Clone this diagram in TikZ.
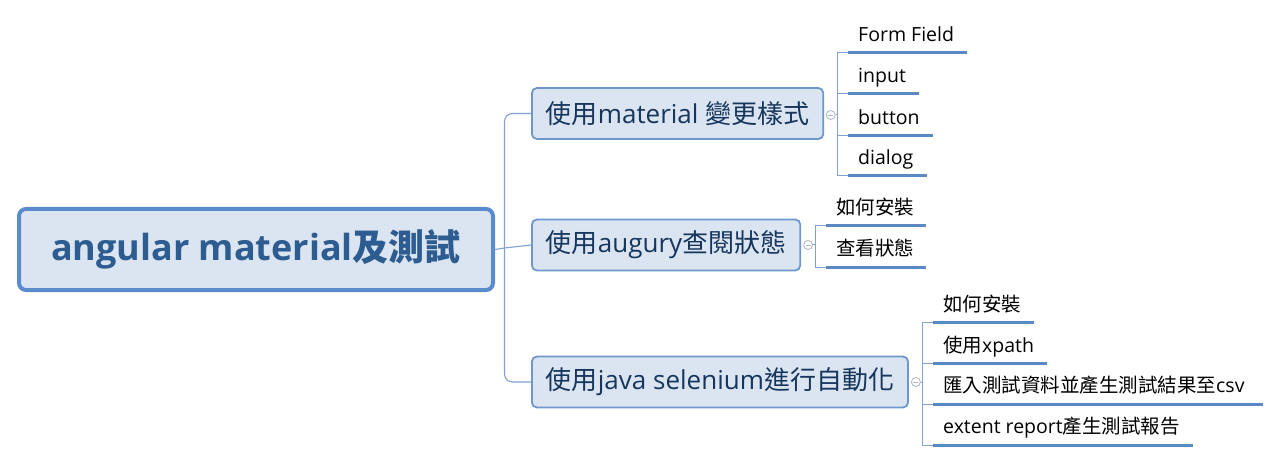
\documentclass[tikz,border=0pt]{standalone}
\usepackage{fontspec}
\setmainfont{Open Sans}
\newfontfamily\zhfont{Noto Sans CJK TC}
\newcommand\zh[1]{{\zhfont #1}}
\definecolor{boxfill}{HTML}{DBE5F1}
\definecolor{rootline}{HTML}{5A8BCB}
\definecolor{topline}{HTML}{6E97CB}
\definecolor{roottext}{HTML}{2D5C91}
\definecolor{topictext}{HTML}{17365D}
\definecolor{linkcol}{HTML}{7FA2CF}
\definecolor{leafline}{HTML}{5B89C3}
\definecolor{knobcol}{HTML}{A9B4C4}
\begin{document}
\begin{tikzpicture}[x=1pt,y=-1pt,
  root/.style={draw=rootline, line width=4pt, fill=boxfill, rounded corners=7pt, minimum width=474pt, minimum height=81pt, text=roottext, font=\bfseries\fontsize{36}{40}\selectfont},
  topic/.style={draw=topline, line width=1.8pt, fill=boxfill, rounded corners=5pt, minimum height=51pt, inner xsep=14pt, anchor=west, text=topictext, font=\fontsize{26}{30}\selectfont},
  leaf/.style={anchor=south west, inner xsep=10pt, inner ysep=0pt, text height=15pt, text depth=11pt, font=\fontsize{19.5}{24}\selectfont},
  uline/.style={draw=leafline, line width=3pt},
  link/.style={draw=linkcol, line width=1.1pt, rounded corners=8pt},
  twig/.style={draw=linkcol, line width=1pt},
  knob/.style={circle, draw=knobcol, line width=0.8pt, fill=white, inner sep=0pt, minimum size=9pt}]
\useasboundingbox (0,0) rectangle (1284,462);

\node[root] (root) at (256,249.5) {angular material\zh{及測試}};
\node[topic] (mat) at (531,113.5) {\zh{使用}material \zh{變更樣式}};
\node[topic] (aug) at (531,245) {\zh{使用}augury\zh{查閱狀態}};
\node[topic] (sel) at (531,382) {\zh{使用}java selenium\zh{進行自動化}};

\coordinate (fork) at (504.5,248);
\draw[link] (root.east) -- (fork);
\draw[link] (fork) |- (mat.west);
\draw[link] (fork) -- (aug.west);
\draw[link] (fork) |- (sel.west);

\node[knob] (kmat) at ([xshift=6.5pt,yshift=-1.5pt]mat.east) {};
\node[knob] (kaug) at ([xshift=7pt]aug.east) {};
\node[knob] (ksel) at ([xshift=7pt]sel.east) {};
\draw[knobcol, line width=0.8pt] ([xshift=-2.5pt]kmat.center) -- ([xshift=2.5pt]kmat.center);
\draw[knobcol, line width=0.8pt] ([xshift=-2.5pt]kaug.center) -- ([xshift=2.5pt]kaug.center);
\draw[knobcol, line width=0.8pt] ([xshift=-2.5pt]ksel.center) -- ([xshift=2.5pt]ksel.center);

\node[leaf] (form) at (848,52.7) {Form Field};
\node[leaf] (input) at (848,94) {input};
\node[leaf] (button) at (848,135.5) {button};
\node[leaf] (dialog) at (848,176) {dialog};
\coordinate (fmat) at ([xshift=2pt]kmat.east);
\draw[twig] (kmat.east) -- (fmat);
\draw[twig] (fmat) |- (form.south west);
\draw[twig] (fmat) |- (input.south west);
\draw[twig] (fmat) |- (button.south west);
\draw[twig] (fmat) |- (dialog.south west);
\draw[uline] (form.south west) -- ([xshift=3pt]form.south east);
\draw[uline] (input.south west) -- ([xshift=3pt]input.south east);
\draw[uline] (button.south west) -- ([xshift=3pt]button.south east);
\draw[uline] (dialog.south west) -- ([xshift=3pt]dialog.south east);

\node[leaf] (setup) at (826,226) {\zh{如何安裝}};
\node[leaf] (state) at (826,267) {\zh{查看狀態}};
\coordinate (faug) at ([xshift=2pt]kaug.east);
\draw[twig] (kaug.east) -- (faug);
\draw[twig] (faug) |- (setup.south west);
\draw[twig] (faug) |- (state.south west);
\draw[uline] (setup.south west) -- ([xshift=2pt]setup.south east);
\draw[uline] (state.south west) -- ([xshift=2pt]state.south east);

\node[leaf] (install) at (933,322.5) {\zh{如何安裝}};
\node[leaf] (xpath) at (933,363.5) {\zh{使用}xpath};
\node[leaf] (csv) at (933,404) {\zh{匯入測試資料並產生測試結果至}csv};
\node[leaf] (report) at (933,445) {extent report\zh{產生測試報告}};
\coordinate (fsel) at ([xshift=2pt]ksel.east);
\draw[twig] (ksel.east) -- (fsel);
\draw[twig] (fsel) |- (install.south west);
\draw[twig] (fsel) |- (xpath.south west);
\draw[twig] (fsel) |- (csv.south west);
\draw[twig] (fsel) |- (report.south west);
\draw[uline] (install.south west) -- ([xshift=3pt]install.south east);
\draw[uline] (xpath.south west) -- ([xshift=3pt]xpath.south east);
\draw[uline] (csv.south west) -- ([xshift=8pt]csv.south east);
\draw[uline] (report.south west) -- ([xshift=3pt]report.south east);
\end{tikzpicture}
\end{document}
